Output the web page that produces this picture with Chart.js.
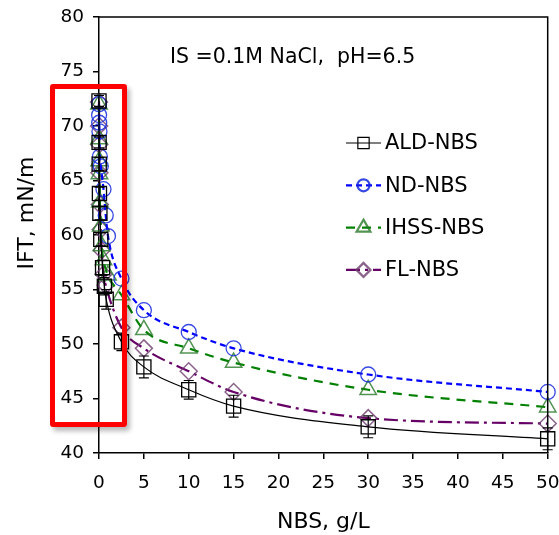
<!DOCTYPE html>
<html>
<head>
<meta charset="utf-8">
<script src="https://cdn.jsdelivr.net/npm/chart.js@4/dist/chart.umd.min.js"></script>
<style>
  html, body { margin: 0; padding: 0; background: #fff; }
  #wrap { position: relative; width: 559px; height: 535px; overflow: hidden; }
  #focus {
    position: absolute; left: 50px; top: 84px; width: 77px; height: 343px;
    box-sizing: border-box; border: 5px solid #ff0000; border-radius: 3px;
    box-shadow: 3px 4px 5px rgba(0,0,0,0.28); pointer-events: none;
  }
</style>
</head>
<body>
<div id="wrap">
  <canvas id="c" width="559" height="535"></canvas>
  <div id="focus"></div>
</div>
<script>
// Interfacial tension vs. NBS concentration (IS = 0.1 M NaCl, pH 6.5)
const seriesNames = ['ALD-NBS', 'ND-NBS', 'IHSS-NBS', 'FL-NBS'];

const aldX   = [0, 0.01, 0.02, 0.05, 0.1, 0.2, 0.4, 0.6, 0.8, 2.5, 5, 10, 15, 30, 50];
const aldY   = [72.3, 68.5, 66.5, 63.8, 62.0, 59.6, 57.0, 55.3, 54.1, 50.2, 47.9, 45.8, 44.3, 42.4, 41.3];
const aldErr = [0.5, 0.5, 0.6, 0.6, 0.6, 0.6, 0.7, 0.8, 0.9, 0.8, 1.0, 0.85, 1.0, 1.0, 1.0];

const ndX = [0, 0.01, 0.02, 0.05, 0.1, 0.2, 0.5, 0.75, 1, 2.5, 5, 10, 15, 30, 50];
const ndY = [72.0, 71.0, 70.3, 69.5, 67.2, 66.3, 64.2, 61.8, 59.9, 56.0, 53.1, 51.1, 49.6, 47.2, 45.6];

const ihssX = [0, 0.01, 0.02, 0.05, 0.1, 0.2, 0.3, 0.5, 1, 2.5, 5, 10, 15, 30, 50];
const ihssY = [72.0, 68.8, 66.8, 65.6, 63.0, 60.8, 59.0, 57.7, 56.3, 54.5, 51.3, 49.6, 48.3, 45.8, 44.2];

const flX = [0, 0.01, 0.02, 0.05, 0.1, 0.2, 0.3, 0.5, 0.75, 2.5, 5, 10, 15, 30, 50];
const flY = [72.2, 70.0, 68.3, 65.7, 62.8, 60.5, 58.6, 56.4, 55.4, 51.5, 49.6, 47.5, 45.6, 43.2, 42.7];

const xTicks = [0, 5, 10, 15, 20, 25, 30, 35, 40, 45, 50];
const yTicks = [40, 45, 50, 55, 60, 65, 70, 75, 80];

const xTitle = 'NBS, g/L';
const yTitle = 'IFT, mN/m';
const noteText = 'IS =0.1M NaCl,  pH=6.5';

const FONT = "'DejaVu Sans', sans-serif";
Chart.defaults.font.family = FONT;
Chart.defaults.color = '#000';

const pts = (xs, ys) => xs.map((x, i) => ({ x: x, y: ys[i] }));

const datasets = [
  { label: seriesNames[0], data: pts(aldX, aldY),
    borderColor: '#000', borderWidth: 1.2, borderDash: [],
    pointStyle: 'rect', pointRadius: 10, pointBorderColor: '#000', pointBorderWidth: 1.3,
    legendRadius: 8 },
  { label: seriesNames[1], data: pts(ndX, ndY),
    borderColor: '#0000ff', borderWidth: 2.2, borderDash: [6, 4],
    pointStyle: 'circle', pointRadius: 7.5, pointBorderColor: 'rgba(20,40,220,0.85)', pointBorderWidth: 1.3,
    legendRadius: 6 },
  { label: seriesNames[2], data: pts(ihssX, ihssY),
    borderColor: '#008000', borderWidth: 2.2, borderDash: [9, 7],
    pointStyle: 'triangle', pointRadius: 9.5, pointBorderColor: 'rgba(40,120,40,0.8)', pointBorderWidth: 1.5,
    legendRadius: 8 },
  { label: seriesNames[3], data: pts(flX, flY),
    borderColor: '#660066', borderWidth: 2.2, borderDash: [14, 5, 3, 5],
    pointStyle: 'rectRot', pointRadius: 8.5, pointBorderColor: 'rgba(110,60,110,0.8)', pointBorderWidth: 1.5,
    legendRadius: 7 }
].map(ds => Object.assign(ds, {
  showLine: true, fill: false, backgroundColor: 'rgba(0,0,0,0)',
  pointBackgroundColor: 'rgba(0,0,0,0)', cubicInterpolationMode: 'monotone', clip: false
}));

// Error bars on the ALD-NBS series, positioned through the y scale
const errorBars = {
  id: 'errorBars',
  afterDatasetsDraw(chart) {
    const ctx = chart.ctx;
    const ys = chart.scales.y;
    const meta = chart.getDatasetMeta(0);
    ctx.save();
    ctx.strokeStyle = '#000';
    ctx.lineWidth = 1.2;
    ctx.beginPath();
    meta.data.forEach((pt, i) => {
      const t = ys.getPixelForValue(aldY[i] + aldErr[i]);
      const b = ys.getPixelForValue(aldY[i] - aldErr[i]);
      ctx.moveTo(pt.x, t); ctx.lineTo(pt.x, b);
      ctx.moveTo(pt.x - 5, t); ctx.lineTo(pt.x + 5, t);
      ctx.moveTo(pt.x - 5, b); ctx.lineTo(pt.x + 5, b);
    });
    ctx.stroke();
    ctx.restore();
  }
};

// Plot frame, y title, condition note and the series key
const decorations = {
  id: 'decorations',
  afterDraw(chart) {
    const ctx = chart.ctx;
    const a = chart.chartArea;
    ctx.save();
    ctx.strokeStyle = '#000';
    ctx.lineWidth = 1.5;
    ctx.beginPath();
    ctx.moveTo(a.left, a.top); ctx.lineTo(a.right, a.top); ctx.lineTo(a.right, a.bottom);
    ctx.stroke();

    ctx.fillStyle = '#000';
    ctx.font = '22px ' + FONT;
    ctx.textAlign = 'center';
    ctx.textBaseline = 'middle';
    ctx.save();
    ctx.translate(27, 213);
    ctx.rotate(-Math.PI / 2);
    ctx.fillText(yTitle, 0, 0);
    ctx.restore();

    ctx.font = '20.5px ' + FONT;
    ctx.textAlign = 'left';
    ctx.fillText(noteText, 170, 58);

    // series key
    ctx.font = '21px ' + FONT;
    chart.data.datasets.forEach((ds, i) => {
      const y = 143 + i * 42.3;
      ctx.save();
      ctx.strokeStyle = ds.borderColor;
      ctx.lineWidth = ds.borderWidth;
      ctx.setLineDash(ds.borderDash);
      ctx.beginPath();
      ctx.moveTo(346, y); ctx.lineTo(381, y);
      ctx.stroke();
      ctx.setLineDash([]);
      ctx.strokeStyle = ds.pointBorderColor;
      ctx.fillStyle = 'rgba(0,0,0,0)';
      Chart.helpers.drawPoint(ctx, {
        pointStyle: ds.pointStyle, radius: ds.legendRadius, rotation: 0,
        borderWidth: ds.pointBorderWidth
      }, 363.5, y);
      ctx.restore();
      ctx.fillStyle = '#000';
      ctx.fillText(ds.label, 385, y + 1);
    });
    ctx.restore();
  }
};

new Chart(document.getElementById('c'), {
  type: 'scatter',
  data: { datasets: datasets },
  options: {
    responsive: false,
    animation: false,
    layout: { padding: { top: 17, right: 7, bottom: 0, left: 0 } },
    plugins: { legend: { display: false }, tooltip: { enabled: false } },
    scales: {
      x: {
        type: 'linear', min: 0, max: 50,
        afterBuildTicks: s => { s.ticks = xTicks.map(v => ({ value: v })); },
        afterFit: s => { s.height = 82; s.paddingLeft = 0; s.paddingRight = 0; },
        ticks: { font: { size: 18.5 }, padding: 13, maxRotation: 0, autoSkip: false },
        grid: { display: true, drawOnChartArea: false, drawTicks: true, tickLength: 6, color: '#000', lineWidth: 1.5 },
        border: { display: true, color: '#000', width: 1.5 },
        title: { display: true, text: xTitle, font: { size: 22 }, padding: { top: 0, bottom: 0 } }
      },
      y: {
        type: 'linear', min: 40, max: 80,
        afterBuildTicks: s => { s.ticks = yTicks.map(v => ({ value: v })); },
        afterFit: s => { s.width = 99; s.paddingTop = 0; s.paddingBottom = 0; },
        ticks: { font: { size: 18.5 }, padding: 9, autoSkip: false },
        grid: { display: true, drawOnChartArea: false, drawTicks: true, tickLength: 6, color: '#000', lineWidth: 1.5 },
        border: { display: true, color: '#000', width: 1.5 }
      }
    }
  },
  plugins: [errorBars, decorations]
});
</script>
</body>
</html>
